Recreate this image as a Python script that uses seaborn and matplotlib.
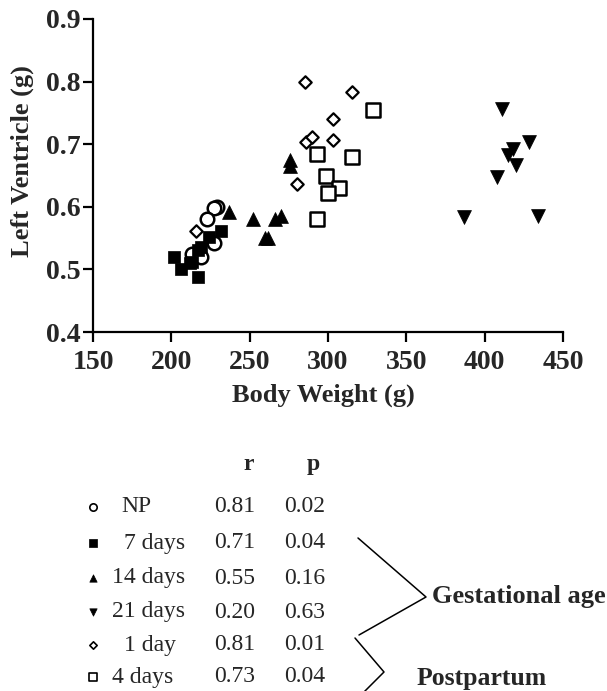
import matplotlib
matplotlib.use("Agg")
import matplotlib.pyplot as plt
import seaborn as sns
import pandas as pd

sns.set_theme(style="white")
plt.rcParams['font.family'] = ['Liberation Serif', 'DejaVu Serif']

# ---- data ----
np_x = [229, 227, 223, 227, 217, 213, 219]
np_y = [0.600, 0.598, 0.580, 0.542, 0.526, 0.524, 0.520]
d7_x = [202, 206, 212, 213, 217, 217, 219, 224, 232]
d7_y = [0.520, 0.500, 0.510, 0.512, 0.488, 0.531, 0.536, 0.552, 0.561]
d14_x = [237, 252, 260, 262, 266, 270, 276, 276]
d14_y = [0.592, 0.580, 0.550, 0.550, 0.580, 0.585, 0.675, 0.665]
d21_x = [411, 428, 418, 415, 420, 408, 387, 434]
d21_y = [0.756, 0.704, 0.692, 0.683, 0.667, 0.647, 0.583, 0.586]
pp1_x = [216, 280, 285, 286, 290, 303, 303, 315]
pp1_y = [0.561, 0.636, 0.800, 0.704, 0.712, 0.707, 0.740, 0.783]
pp4_x = [329, 293, 315, 299, 307, 300, 293]
pp4_y = [0.754, 0.685, 0.680, 0.650, 0.630, 0.622, 0.580]

groups = ["NP", "7 days", "14 days", "21 days", "1 day", "4 days"]
r_vals = ["0.81", "0.71", "0.55", "0.20", "0.81", "0.73"]
p_vals = ["0.02", "0.04", "0.16", "0.63", "0.01", "0.04"]

xs = [np_x, d7_x, d14_x, d21_x, pp1_x, pp4_x]
ys = [np_y, d7_y, d14_y, d21_y, pp1_y, pp4_y]
frames = []
for g, x, y in zip(groups, xs, ys):
    frames.append(pd.DataFrame({"bw": x, "lv": y, "group": g}))
df = pd.concat(frames, ignore_index=True)

# marker styles: (marker, filled, size, lw)
styles = {
    "NP": ("o", False, 95, 1.8),
    "7 days": ("s", True, 85, 0.5),
    "14 days": ("^", True, 100, 0.5),
    "21 days": ("v", True, 100, 0.5),
    "1 day": ("D", False, 40, 1.6),
    "4 days": ("s", False, 100, 1.8),
}

W, H = 607, 691
fig = plt.figure(figsize=(W / 100, H / 100), dpi=100)
ax = fig.add_axes([93 / W, 1 - 332 / H, 470 / W, 313 / H])

for g in groups:
    m, filled, s, lw = styles[g]
    sub = df[df["group"] == g]
    sns.scatterplot(data=sub, x="bw", y="lv", ax=ax, marker=m, s=s,
                    facecolor="black" if filled else "white",
                    edgecolor="black", linewidth=lw, legend=False, zorder=3)

ax.set_xlim(150, 450)
ax.set_ylim(0.4, 0.9)
ax.set_xticks([150, 200, 250, 300, 350, 400, 450])
ax.set_yticks([0.4, 0.5, 0.6, 0.7, 0.8, 0.9])
ax.set_yticklabels(["0.4", "0.5", "0.6", "0.7", "0.8", "0.9"])
for sp in ["top", "right"]:
    ax.spines[sp].set_visible(False)
for sp in ["left", "bottom"]:
    ax.spines[sp].set_color("black")
    ax.spines[sp].set_linewidth(1.6)
ax.tick_params(direction="out", length=7, width=1.6, color="black",
               labelsize=20, pad=2, bottom=True, left=True)
ax.tick_params(axis="x", pad=6)
for lab in ax.get_xticklabels() + ax.get_yticklabels():
    lab.set_fontweight("bold")
ax.set_xlabel("Body Weight (g)", fontsize=19, fontweight="bold")
ax.set_ylabel("Left Ventricle (g)", fontsize=19, fontweight="bold")
ax.xaxis.set_label_coords(0.49, -0.166)
ax.yaxis.set_label_coords(-0.126, 0.546)
ax.grid(False)

# ---- legend table in pixel coordinates ----
ov = fig.add_axes([0, 0, 1, 1], facecolor="none")
ov.set_xlim(0, W)
ov.set_ylim(H, 0)
ov.axis("off")

ov.text(249, 464, "r", fontsize=17, fontweight="bold", ha="center", va="center")
ov.text(313, 464, "p", fontsize=17, fontweight="bold", ha="center", va="center")

row_y = [507, 543, 578, 612, 645, 677]
label_x = [121, 124, 112, 112, 124, 112]
mk = {
    "NP": ("o", False, 28, 1.2),
    "7 days": ("s", True, 30, 0.5),
    "14 days": ("^", True, 28, 0.5),
    "21 days": ("v", True, 28, 0.5),
    "1 day": ("D", False, 14, 1.2),
    "4 days": ("s", False, 30, 1.2),
}
for g, yy, lx, rv, pv in zip(groups, row_y, label_x, r_vals, p_vals):
    m, filled, s, lw = mk[g]
    ov.scatter([93], [yy], marker=m, s=s, facecolor="black" if filled else "white",
               edgecolor="black", linewidth=lw)
    ov.text(lx, yy, g, fontsize=17, ha="left", va="center")
    ov.text(235, yy, rv, fontsize=17, ha="center", va="center")
    ov.text(305, yy, pv, fontsize=17, ha="center", va="center")

# brackets
ov.plot([358, 426, 359], [538, 597, 635], color="black", lw=1.1)
ov.plot([355, 384, 356], [638, 672, 700], color="black", lw=1.1, clip_on=False)
ov.text(432, 597, "Gestational age", fontsize=19, fontweight="bold", ha="left", va="center")
ov.text(417, 678, "Postpartum", fontsize=18.5, fontweight="bold", ha="left", va="center")

fig.savefig("out.png", dpi=100)
